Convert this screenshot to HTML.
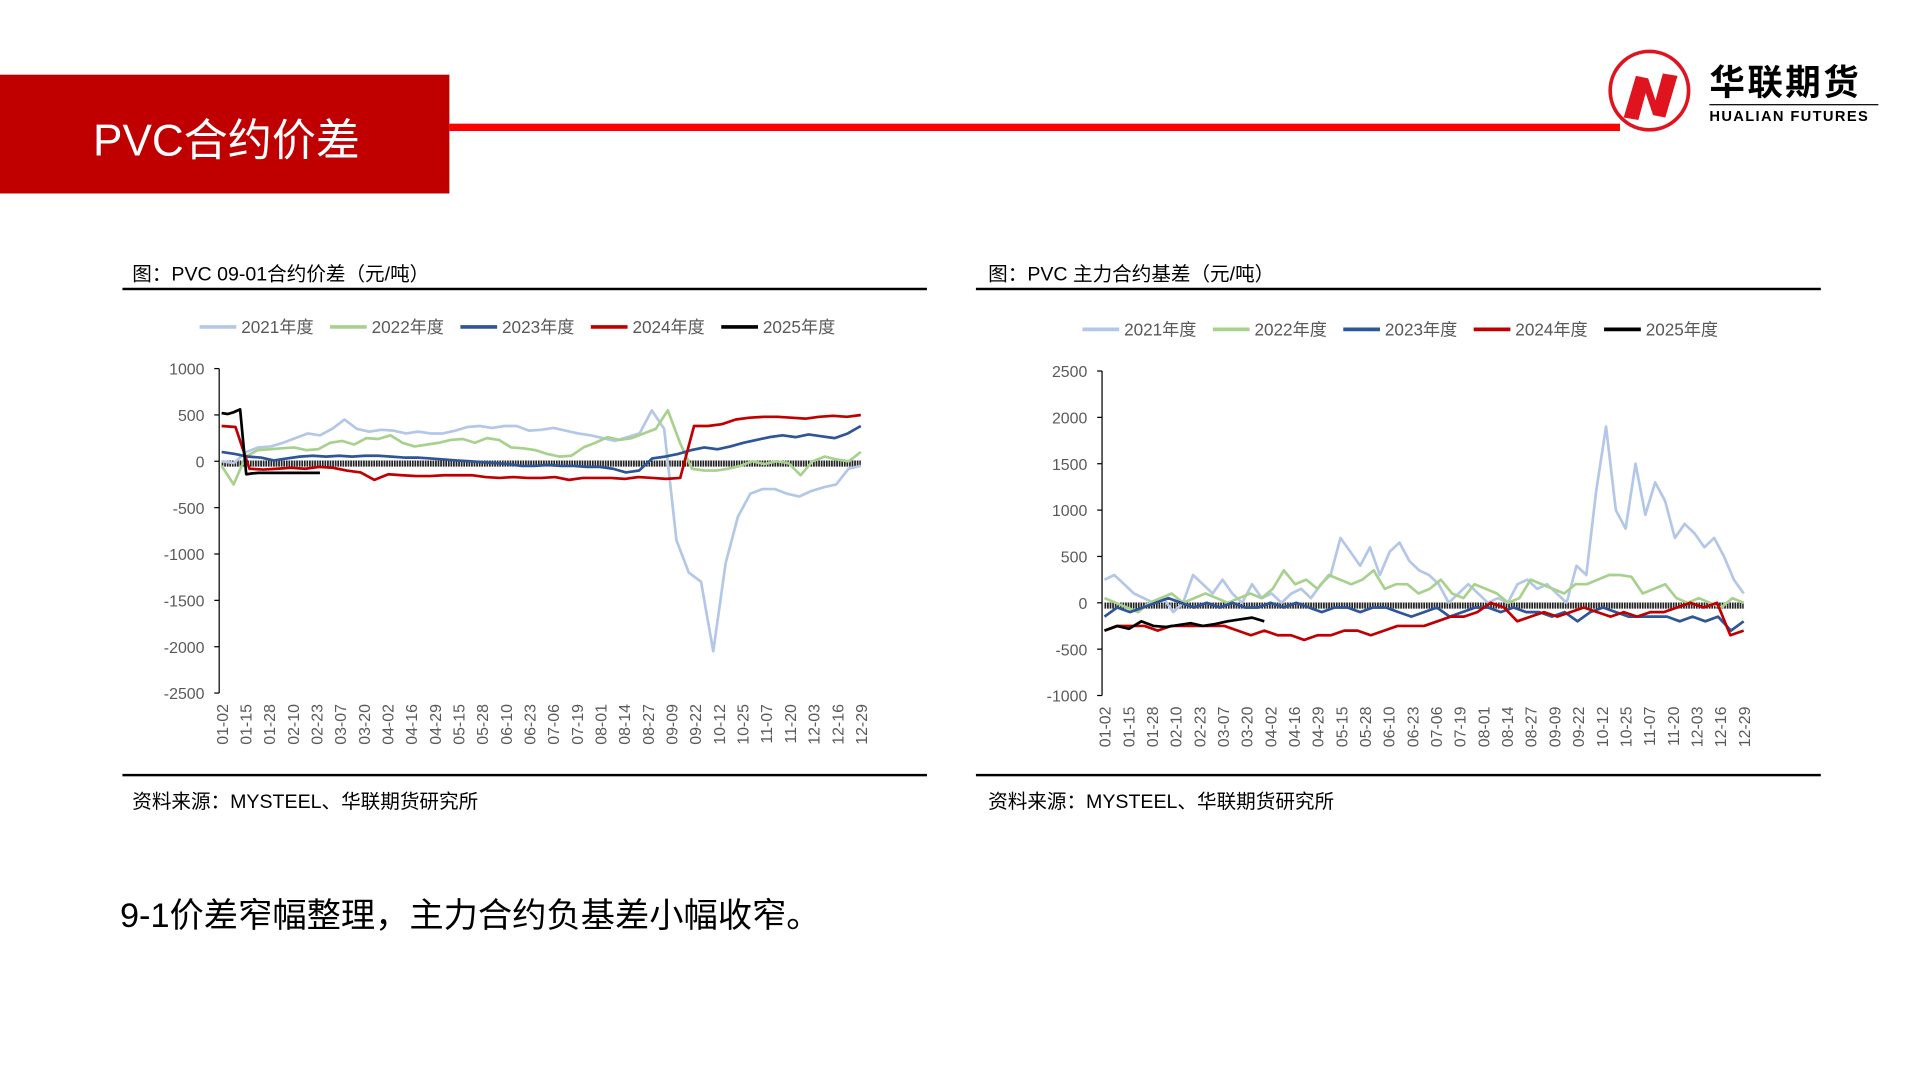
<!DOCTYPE html>
<html><head><meta charset="utf-8"><style>
html,body{margin:0;padding:0;background:#fff;width:1920px;height:1080px;overflow:hidden}
svg{display:block}
text{font-family:"Liberation Sans","Noto Sans CJK SC",sans-serif}
</style></head><body>
<svg id="page" width="1920" height="1080" viewBox="0 0 1568 882" xmlns="http://www.w3.org/2000/svg">
<rect x="0" y="61" width="367" height="97" fill="#c00000"/>
<text x="76" y="127" font-size="36" fill="#fff">PVC合约价差</text>
<rect x="367" y="101" width="956" height="6" fill="#ff0000"/>
<g>
<circle cx="1347" cy="74" r="32" fill="#fff" stroke="#e0141e" stroke-width="3"/>
<path d="M1326 96 L1336 62 L1346 64 L1352 82 L1358 60 L1370 62 L1360 96 L1350 94 L1344 76 L1338 98 Z" fill="#e0141e"/>
<text x="1396" y="77" font-size="29" font-weight="bold" fill="#000" font-family="Noto Sans CJK SC,sans-serif" letter-spacing="2">华联期货</text>
<rect x="1396" y="85" width="138" height="1" fill="#000"/>
<text x="1396" y="99" font-size="12" font-weight="bold" fill="#000" letter-spacing="1.1">HUALIAN FUTURES</text>
</g>
<text x="108" y="229" font-size="16" fill="#000">图：PVC 09-01合约价差（元/吨）</text>
<rect x="100" y="235" width="657" height="2" fill="#000"/>
<rect x="100" y="632" width="657" height="2" fill="#000"/>
<text x="108" y="660" font-size="16" fill="#000">资料来源：MYSTEEL、华联期货研究所</text>
<text x="807" y="229" font-size="16" fill="#000">图：PVC 主力合约基差（元/吨）</text>
<rect x="797" y="235" width="690" height="2" fill="#000"/>
<rect x="797" y="632" width="690" height="2" fill="#000"/>
<text x="807" y="660" font-size="16" fill="#000">资料来源：MYSTEEL、华联期货研究所</text>
<text x="98" y="757" font-size="28" fill="#000" font-family="Liberation Serif,Noto Serif CJK SC,serif">9-1价差窄幅整理，主力合约负基差小幅收窄。</text>
<g id="chartL"></g>
<g id="chartR"></g>
</svg>
<script>
const dateLabels=["01-02","01-15","01-28","02-10","02-23","03-07","03-20","04-02","04-16","04-29","05-15","05-28","06-10","06-23","07-06","07-19","08-01","08-14","08-27","09-09","09-22","10-12","10-25","11-07","11-20","12-03","12-16","12-29"];
const seriesNames=["2021年度","2022年度","2023年度","2024年度","2025年度"];
const L2021=[0,-20,100,150,160,200,250,300,280,350,450,350,320,340,330,300,320,300,300,330,370,380,360,380,380,330,340,360,330,300,280,250,220,260,300,550,350,-850,-1200,-1300,-2050,-1100,-600,-350,-300,-300,-350,-380,-320,-280,-250,-80,-50];
const L2022=[-50,-250,50,120,130,140,150,120,130,200,220,180,250,240,280,200,160,180,200,230,240,200,250,230,150,140,120,80,50,60,150,200,260,230,250,300,350,550,200,-80,-100,-100,-80,-50,0,-30,0,-20,-150,0,50,20,0,100];
const L2023=[100,80,50,40,10,30,50,60,50,60,50,60,60,50,40,40,30,20,10,0,-10,-20,-30,-50,-50,-40,-50,-50,-60,-60,-80,-120,-100,30,50,80,120,150,130,160,200,230,260,280,260,290,270,250,300,380];
const L2024=[380,370,-80,-90,-80,-70,-80,-60,-70,-100,-120,-200,-140,-150,-160,-160,-150,-150,-150,-170,-180,-170,-180,-180,-170,-200,-180,-180,-180,-190,-170,-180,-190,-180,380,380,400,450,470,480,480,470,460,480,490,480,500];
const L2025=[520,510,530,560,-140,-130,-125,-125,-125,-125,-125,-125,-125,-125,-125,-125,-125];
const R2021=[250,300,200,100,50,0,50,-100,0,300,200,100,250,100,0,200,50,100,0,100,150,50,200,300,700,550,400,600,300,550,650,450,350,300,200,0,100,200,100,0,50,0,200,250,150,200,100,0,400,300,1200,1900,1000,800,1500,950,1300,1100,700,850,750,600,700,500,250,100];
const R2022=[50,0,-50,-100,0,50,100,0,50,100,50,0,50,100,50,150,350,200,250,150,300,250,200,250,350,150,200,200,100,150,250,100,50,200,150,100,0,50,250,200,150,100,200,200,250,300,300,280,100,150,200,50,0,50,0,-50,50,0];
const R2023=[-150,-50,-100,-50,0,50,0,-50,0,-50,0,-50,-50,0,-50,0,-50,-100,-50,-50,-100,-50,-50,-100,-150,-100,-50,-150,-100,-50,-50,-100,-50,-100,-100,-150,-100,-200,-100,-50,-100,-150,-150,-150,-150,-200,-150,-200,-150,-300,-200];
const R2024=[-300,-250,-250,-250,-300,-250,-250,-250,-250,-250,-300,-350,-300,-350,-350,-400,-350,-350,-300,-300,-350,-300,-250,-250,-250,-200,-150,-150,-100,0,-50,-200,-150,-100,-150,-100,-50,-100,-150,-100,-150,-100,-100,-50,0,-50,0,-350,-300];
const R2025=[-300,-250,-280,-200,-250,-260,-240,-220,-250,-230,-200,-180,-160,-200];
const leftTicks=[1000,500,0,-500,-1000,-1500,-2000,-2500];
const rightTicks=[2500,2000,1500,1000,500,0,-500,-1000];
const colors=["#b4c7e7","#a9d18e","#2f5597","#c00000","#000000"];
const NS="http://www.w3.org/2000/svg";
function el(tag,attrs,parent){const e=document.createElementNS(NS,tag);for(const k in attrs)e.setAttribute(k,attrs[k]);parent.appendChild(e);return e;}
function drawChart(g,cfg){
  const {ax,x0,x1,yTop,yBot,vmax,vmin,ticks,series,partialWeeks,legendX,legendY,bandVal}=cfg;
  const yS=v=>yTop+(vmax-v)/(vmax-vmin)*(yBot-yTop);
  const xF=f=>x0+f*(x1-x0);
  let lx=legendX;
  seriesNames.forEach((n,i)=>{
    const ln=el('line',{x1:lx,y1:legendY,x2:lx+30,y2:legendY,stroke:colors[i],'stroke-width':3},g);
    
    
    const t=el('text',{x:lx+34,y:legendY+5,'font-size':14,fill:'#595959'},g);t.textContent=n;
    
    
    lx+=106.5;
  });
  const a=el('line',{x1:ax,y1:yTop,x2:ax,y2:yBot,stroke:'#000','stroke-width':1},g);
  
  
  ticks.forEach(v=>{
    el('line',{x1:ax-4,y1:yS(v),x2:ax,y2:yS(v),stroke:'#000'},g);
    const t=el('text',{x:ax-12,y:yS(v)+5,'font-size':13,fill:'#595959','text-anchor':'end'},g);t.textContent=v;
    
    
  });
  dateLabels.forEach((d,i)=>{
    const x=xF(i/(dateLabels.length-1));
    const t=el('text',{x:0,y:0,'font-size':13,fill:'#595959','text-anchor':'end',transform:`translate(${x+5},${yBot+9}) rotate(-90)`},g);t.textContent=d;
    
    
  });
  const b=el('line',{x1:x0,y1:yS(bandVal),x2:x1,y2:yS(bandVal),stroke:'#222','stroke-width':5,'stroke-dasharray':'1.4 0.7'},g);
  
  
  series.forEach((vals,i)=>{
    let pts;
    if(i===4){pts=vals.map((v,k)=>[xF(k*partialWeeks/52),yS(v)]);}
    else pts=vals.map((v,k)=>[xF(k/(vals.length-1)),yS(v)]);
    const p=el('polyline',{points:pts.map(q=>q[0].toFixed(1)+','+q[1].toFixed(1)).join(' '),fill:'none',stroke:colors[i],'stroke-width':2.2,'stroke-linejoin':'round'},g);
    
    
  });
}
drawChart(document.getElementById('chartL'),{ax:179,x0:181,x1:703,yTop:301,yBot:566,vmax:1000,vmin:-2500,ticks:leftTicks,series:[L2021,L2022,L2023,L2024,L2025],partialWeeks:0.5,legendX:163,legendY:267,bandVal:-25});
drawChart(document.getElementById('chartR'),{ax:900,x0:902,x1:1424,yTop:303,yBot:568,vmax:2500,vmin:-1000,ticks:rightTicks,series:[R2021,R2022,R2023,R2024,R2025],partialWeeks:1,legendX:884,legendY:269,bandVal:-30});
</script>
</body></html>
